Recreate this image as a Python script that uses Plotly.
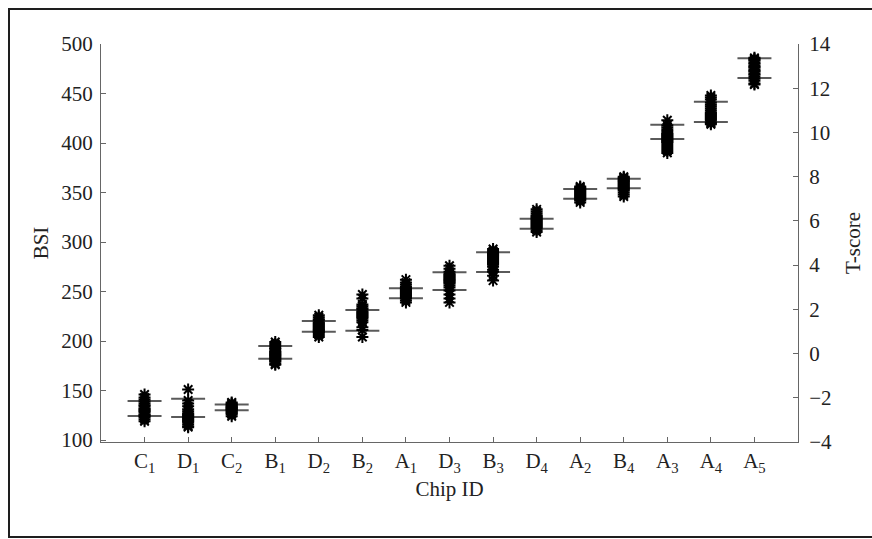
import plotly.graph_objects as go

# ---- data ----
chip_labels = ["C<sub>1</sub>", "D<sub>1</sub>", "C<sub>2</sub>", "B<sub>1</sub>", "D<sub>2</sub>",
               "B<sub>2</sub>", "A<sub>1</sub>", "D<sub>3</sub>", "B<sub>3</sub>", "D<sub>4</sub>",
               "A<sub>2</sub>", "B<sub>4</sub>", "A<sub>3</sub>", "A<sub>4</sub>", "A<sub>5</sub>"]
chip_pos = list(range(1, 16))

bsi_C1 = [146, 143, 141, 139, 137, 135, 134, 132, 131, 130, 129, 128, 126, 125, 124, 123, 121, 119]
bsi_D1 = [151, 140, 137, 134, 131, 129, 127, 126, 125, 124, 123, 122, 121, 120, 119, 118, 116, 114, 113]
bsi_C2 = [138, 137, 136, 135, 134, 133, 133, 132, 131, 131, 130, 129, 128, 127, 126, 124]
bsi_B1 = [199, 197, 195, 193, 192, 190, 189, 188, 187, 186, 185, 184, 183, 182, 181, 180, 179, 177, 176]
bsi_D2 = [226, 224, 222, 221, 219, 218, 217, 216, 215, 214, 213, 212, 211, 210, 209, 208, 206, 204]
bsi_B2 = [247, 243, 237, 235, 233, 232, 230, 229, 228, 227, 226, 225, 224, 223, 221, 219, 214, 211, 204]
bsi_A1 = [262, 259, 257, 255, 254, 253, 252, 251, 250, 249, 248, 247, 246, 245, 244, 243, 241, 239]
bsi_D3 = [276, 273, 270, 268, 267, 266, 265, 264, 263, 262, 261, 260, 259, 258, 256, 254, 251, 247, 243, 239]
bsi_B3 = [293, 291, 289, 288, 287, 286, 285, 284, 283, 282, 281, 280, 279, 278, 277, 275, 272, 270, 266, 261]
bsi_D4 = [333, 331, 329, 327, 326, 325, 324, 323, 322, 321, 320, 319, 318, 317, 316, 315, 314, 312, 310]
bsi_A2 = [356, 355, 354, 353, 352, 351, 350, 349, 348, 347, 346, 345, 344, 343, 342, 340]
bsi_B4 = [366, 365, 364, 363, 362, 361, 360, 359, 358, 357, 356, 355, 354, 353, 352, 350, 348, 346]
bsi_A3 = [423, 418, 416, 414, 412, 410, 409, 408, 407, 406, 405, 404, 403, 402, 401, 400, 398, 396, 394, 392, 390]
bsi_A4 = [448, 446, 444, 441, 439, 437, 435, 433, 431, 430, 429, 428, 427, 426, 425, 424, 423, 421, 420, 419]
bsi_A5 = [486, 485, 484, 483, 481, 480, 478, 477, 476, 474, 473, 472, 470, 469, 467, 465, 463, 460, 459]

bsi_series = [bsi_C1, bsi_D1, bsi_C2, bsi_B1, bsi_D2, bsi_B2, bsi_A1, bsi_D3, bsi_B3,
              bsi_D4, bsi_A2, bsi_B4, bsi_A3, bsi_A4, bsi_A5]

upper_line = [139.4, 141.7, 136, 195, 220.2, 231.3, 253.3, 269.4, 289.6, 323.6, 353.5, 363.9, 418.5, 441.7, 485.5]
lower_line = [124.3, 123.3, 130, 182, 209.4, 210.4, 243.1, 251.5, 269.7, 313.5, 343.7, 354.2, 404.0, 421.2, 465.6]

bsi_ticks = [100, 150, 200, 250, 300, 350, 400, 450, 500]
tscore_ticks = [-4, -2, 0, 2, 4, 6, 8, 10, 12, 14]

# ---- styling ----
FONT = "Liberation Serif"
TXT = "#222222"
AX = "#666666"
HALF = 0.39
FS = 21

fig = go.Figure()

# horizontal bars
lx, ly = [], []
for p, u, l in zip(chip_pos, upper_line, lower_line):
    lx += [p - HALF, p + HALF, None, p - HALF, p + HALF, None]
    ly += [u, u, None, l, l, None]
fig.add_trace(go.Scatter(x=lx, y=ly, mode="lines", line=dict(color="#5a5a5a", width=2),
                         hoverinfo="skip", showlegend=False))

# star markers
px, py = [], []
for p, vals in zip(chip_pos, bsi_series):
    px += [p] * len(vals)
    py += vals
fig.add_trace(go.Scatter(x=px, y=py, mode="markers",
                         marker=dict(symbol="asterisk-open", size=10, color="black",
                                     line=dict(color="black", width=2)),
                         showlegend=False))

# invisible trace to activate the right axis
fig.add_trace(go.Scatter(x=[chip_pos[0]], y=[tscore_ticks[0]], yaxis="y2", mode="markers",
                         marker=dict(opacity=0), hoverinfo="skip", showlegend=False))

W, H = 872, 539
L, R, T, B = 101, 74, 44, 97
pw, ph = W - L - R, H - T - B

def px_x(v):
    return (v - L) / pw

def px_y(v):
    return (H - B - v) / ph

fig.update_layout(
    width=W, height=H,
    margin=dict(l=L, r=R, t=T, b=B),
    paper_bgcolor="white", plot_bgcolor="white",
    font=dict(family=FONT, color=TXT, size=FS),
    xaxis=dict(range=[0, 16], tickvals=chip_pos, ticktext=chip_labels,
               ticks="inside", ticklen=5, tickcolor=AX, showline=True, linecolor=AX,
               linewidth=1, showgrid=False, zeroline=False,
               title=dict(text="Chip ID", font=dict(size=FS), standoff=6),
               tickfont=dict(size=FS)),
    yaxis=dict(range=[98, 500], tickvals=bsi_ticks, ticks="inside", ticklen=5,
               tickcolor=AX, showline=True, linecolor=AX, linewidth=1,
               showgrid=False, zeroline=False, ticklabelstandoff=3,
               title=dict(text="BSI", font=dict(size=FS), standoff=6)),
    yaxis2=dict(range=[-4, 14], tickvals=tscore_ticks, overlaying="y", side="right",
                ticks="inside", ticklen=5, tickcolor=AX, showline=True, linecolor=AX,
                linewidth=1, showgrid=False, zeroline=False, ticklabelstandoff=6,
                title=dict(text="T-score", font=dict(size=FS), standoff=14)),
    shapes=[dict(type="rect", xref="paper", yref="paper",
                 x0=px_x(9), x1=px_x(880), y0=px_y(537), y1=px_y(9),
                 line=dict(color="#1e1e1e", width=2), layer="below")],
)

fig.write_html("out.html", config={"displayModeBar": False},
               post_script="document.body.style.margin='0px';document.body.style.overflow='hidden';")
